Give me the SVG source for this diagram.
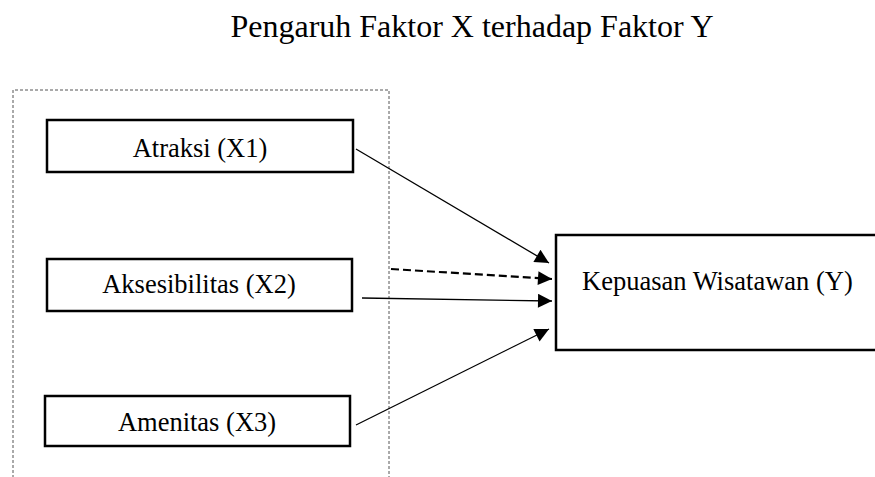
<svg xmlns="http://www.w3.org/2000/svg" width="875" height="477" viewBox="0 0 875 477">
<style>
text{font-family:"Liberation Serif","Times New Roman",serif;fill:#000}
.t{font-size:32px}
.l{font-size:26.5px;text-anchor:middle}
.box{fill:#fff;stroke:#000;stroke-width:2.5}
.ln{fill:none;stroke:#000;stroke-width:1.3}
</style>
<defs>
<marker id="ah" viewBox="0 0 10 10" refX="10" refY="5" markerWidth="17" markerHeight="14" markerUnits="userSpaceOnUse" orient="auto">
<path d="M0,0 L10,5 L0,10 z" fill="#000"/>
</marker>
</defs>
<rect width="875" height="477" fill="#fff"/>
<text class="t" x="472" y="37" text-anchor="middle">Pengaruh Faktor X terhadap Faktor Y</text>
<path d="M13,478 V90 H389 V478" fill="none" stroke="#555" stroke-width="1" stroke-dasharray="3,2"/>
<g id="x1">
<rect class="box" x="47" y="120" width="306" height="52"/>
<text class="l" x="200" y="157">Atraksi (X1)</text>
</g>
<g id="x2">
<rect class="box" x="47" y="259" width="305" height="52"/>
<text class="l" x="199" y="293">Aksesibilitas (X2)</text>
</g>
<g id="x3">
<rect class="box" x="45" y="396" width="305" height="50"/>
<text class="l" x="197" y="431">Amenitas (X3)</text>
</g>
<g id="y">
<path d="M876,235 H556 V350 H876" fill="#fff" stroke="#000" stroke-width="2.5"/>
<text x="582" y="290" style="font-size:26.5px">Kepuasan Wisatawan (Y)</text>
</g>
<g id="connectors">
<line class="ln" x1="356" y1="149" x2="549" y2="263" marker-end="url(#ah)"/>
<line class="ln" x1="391" y1="269" x2="552" y2="279" stroke-dasharray="8,4" style="stroke-width:2.2" marker-end="url(#ah)"/>
<line class="ln" x1="362" y1="298" x2="552" y2="301" marker-end="url(#ah)"/>
<line class="ln" x1="356" y1="425" x2="549" y2="329" marker-end="url(#ah)"/>
</g>
</svg>
